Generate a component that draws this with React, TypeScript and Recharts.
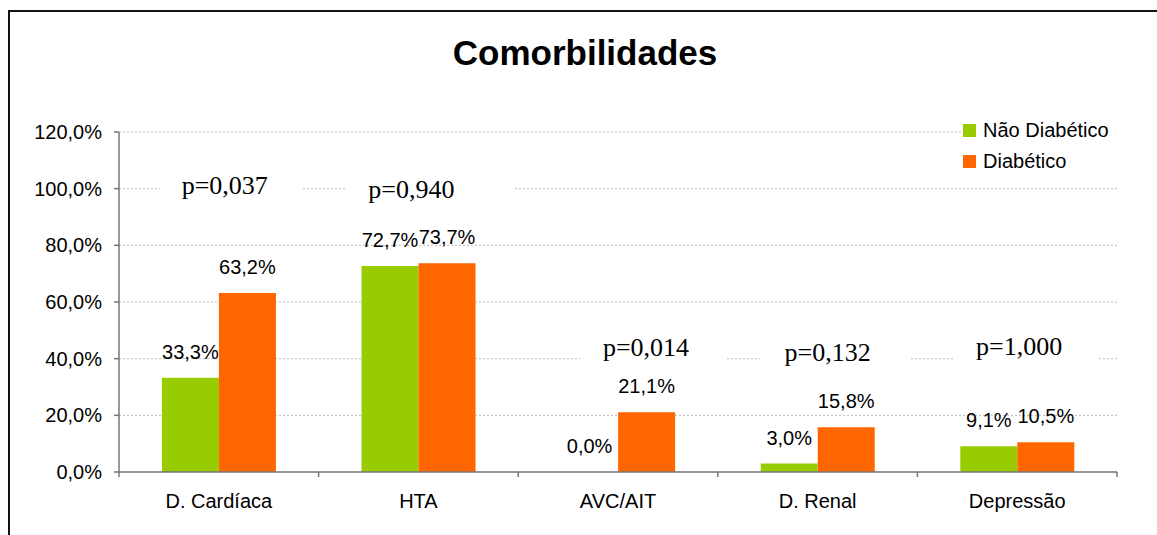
import React from 'react';
import {
  BarChart,
  Bar,
  XAxis,
  YAxis,
  CartesianGrid,
  Legend,
  LabelList,
  ReferenceDot,
} from 'recharts';

const categories = ['D. Cardíaca', 'HTA', 'AVC/AIT', 'D. Renal', 'Depressão'];
const seriesNames = ['Não Diabético', 'Diabético'];
const naoDiabetico = [33.3, 72.7, 0.0, 3.0, 9.1];
const diabetico = [63.2, 73.7, 21.1, 15.8, 10.5];
const pValues = ['p=0,037', 'p=0,940', 'p=0,014', 'p=0,132', 'p=1,000'];
const pLevels = [100, 100, 40, 40, 40];
const yTicks = [0, 20, 40, 60, 80, 100, 120];

const GREEN = '#99CC00';
const ORANGE = '#FF6600';
const AXIS = '#777';
const SANS = '"Liberation Sans", Arial, sans-serif';
const SERIF = '"Liberation Serif", "Times New Roman", serif';

const W = 1157;
const H = 535;
const MARGIN = { top: 132, right: 40, bottom: 23, left: 9 };
const Y_AXIS_W = 110;
const X_AXIS_H = 40;
const X_TICK_MARGIN = 22;
const BAND = (W - MARGIN.left - Y_AXIS_W - MARGIN.right) / categories.length;

// offsets of the p-value text boxes relative to category centre / gridline
const P_LAYOUT = [
  { dx: 6, dy: 5, boxDx: 12.5, boxW: 143 },
  { dx: -7, dy: 9, boxDx: 11.5, boxW: 166 },
  { dx: 28, dy: -3, boxDx: 34.5, boxW: 145 },
  { dx: 10, dy: 2, boxDx: 17.5, boxW: 150 },
  { dx: 2, dy: -4, boxDx: 8, boxW: 144 },
];

const data = categories.map((name, i) => ({
  name,
  nao: naoDiabetico[i],
  dia: diabetico[i],
}));

const pct = (v: number) => v.toFixed(1).replace('.', ',') + '%';

const CategoryTick = (props: any) => {
  const { x, y, payload, index } = props;
  const axisY = y - X_TICK_MARGIN;
  const last = index === categories.length - 1;
  return (
    <g>
      <line x1={x - BAND / 2} x2={x - BAND / 2} y1={axisY} y2={axisY + 5} stroke={AXIS} strokeWidth={1.5} />
      {last && (
        <line x1={x + BAND / 2} x2={x + BAND / 2} y1={axisY} y2={axisY + 5} stroke={AXIS} strokeWidth={1.5} />
      )}
      <text x={x} y={y} dy="0.71em" textAnchor="middle" fontSize={20} fontFamily={SANS} fill="#000">
        {payload.value}
      </text>
    </g>
  );
};

// value label drawn for every bar, also the empty ones
const ValueLabel = (props: any) => {
  const { x, y, width, value } = props;
  return (
    <text x={x + width / 2} y={y - 19} textAnchor="middle" fontSize={20} fontFamily={SANS} fill="#000">
      {pct(Number(value))}
    </text>
  );
};

const renderLegend = (props: any) => {
  const items = [...props.payload].sort(
    (a: any, b: any) => seriesNames.indexOf(a.value) - seriesNames.indexOf(b.value)
  );
  return (
    <div style={{ background: '#fff', fontFamily: SANS, fontSize: 20, color: '#000' }}>
      {items.map((entry: any) => (
        <div key={entry.value} style={{ height: 31, lineHeight: '31px', display: 'flex', alignItems: 'center' }}>
          <span style={{ width: 13, height: 13, background: entry.color, marginRight: 7, display: 'inline-block' }} />
          <span>{entry.value}</span>
        </div>
      ))}
    </div>
  );
};

const makePShape = (i: number) => (props: any) => {
  const { cx, cy } = props;
  const l = P_LAYOUT[i];
  return (
    <g>
      <rect x={cx + l.boxDx - l.boxW / 2} y={cy - 15} width={l.boxW} height={30} fill="#fff" />
      <text x={cx + l.dx} y={cy + l.dy} textAnchor="middle" fontSize={26} fontFamily={SERIF} fill="#000">
        {pValues[i]}
      </text>
    </g>
  );
};

export default function App() {
  return (
    <div style={{ position: 'absolute', left: 0, top: 0, width: W, height: H, background: '#fff', overflow: 'hidden' }}>
      <div
        style={{
          position: 'absolute',
          left: 8,
          top: 10,
          width: W,
          height: H,
          borderTop: '2px solid #111',
          borderLeft: '2px solid #111',
        }}
      />
      <div
        style={{
          position: 'absolute',
          left: 385,
          top: 33,
          width: 400,
          textAlign: 'center',
          fontFamily: SANS,
          fontWeight: 'bold',
          fontSize: 35,
          lineHeight: '40px',
          color: '#000',
        }}
      >
        Comorbilidades
      </div>
      <div style={{ position: 'absolute', left: 0, top: 0 }}>
        <BarChart width={W} height={H} data={data} margin={MARGIN} barCategoryGap="21.5%" barGap={0}>
          <CartesianGrid vertical={false} stroke="#bbb" strokeDasharray="2 2" />
          <XAxis
            dataKey="name"
            height={X_AXIS_H}
            axisLine={{ stroke: AXIS, strokeWidth: 1.5 }}
            tickLine={false}
            tickSize={0}
            tickMargin={X_TICK_MARGIN}
            tick={<CategoryTick />}
            interval={0}
          />
          <YAxis
            width={Y_AXIS_W}
            domain={[0, 120]}
            ticks={yTicks}
            tickFormatter={pct}
            axisLine={{ stroke: AXIS, strokeWidth: 1.5 }}
            tickLine={{ stroke: AXIS, strokeWidth: 1.5 }}
            tickSize={5}
            tickMargin={12}
            tick={{ fontSize: 20, fontFamily: SANS, fill: '#000' }}
          />
          <Legend
            layout="vertical"
            align="center"
            verticalAlign="middle"
            content={renderLegend}
            wrapperStyle={{ left: 963, top: 115, width: 160 }}
          />
          {categories.map((c, i) => (
            <ReferenceDot
              key={c}
              x={c}
              y={pLevels[i]}
              r={0}
              ifOverflow="visible"
              shape={makePShape(i)}
            />
          ))}
          <Bar dataKey="nao" name={seriesNames[0]} fill={GREEN} minPointSize={0.01} isAnimationActive={false}>
            <LabelList dataKey="nao" content={<ValueLabel />} />
          </Bar>
          <Bar dataKey="dia" name={seriesNames[1]} fill={ORANGE} isAnimationActive={false}>
            <LabelList dataKey="dia" content={<ValueLabel />} />
          </Bar>
        </BarChart>
      </div>
    </div>
  );
}
